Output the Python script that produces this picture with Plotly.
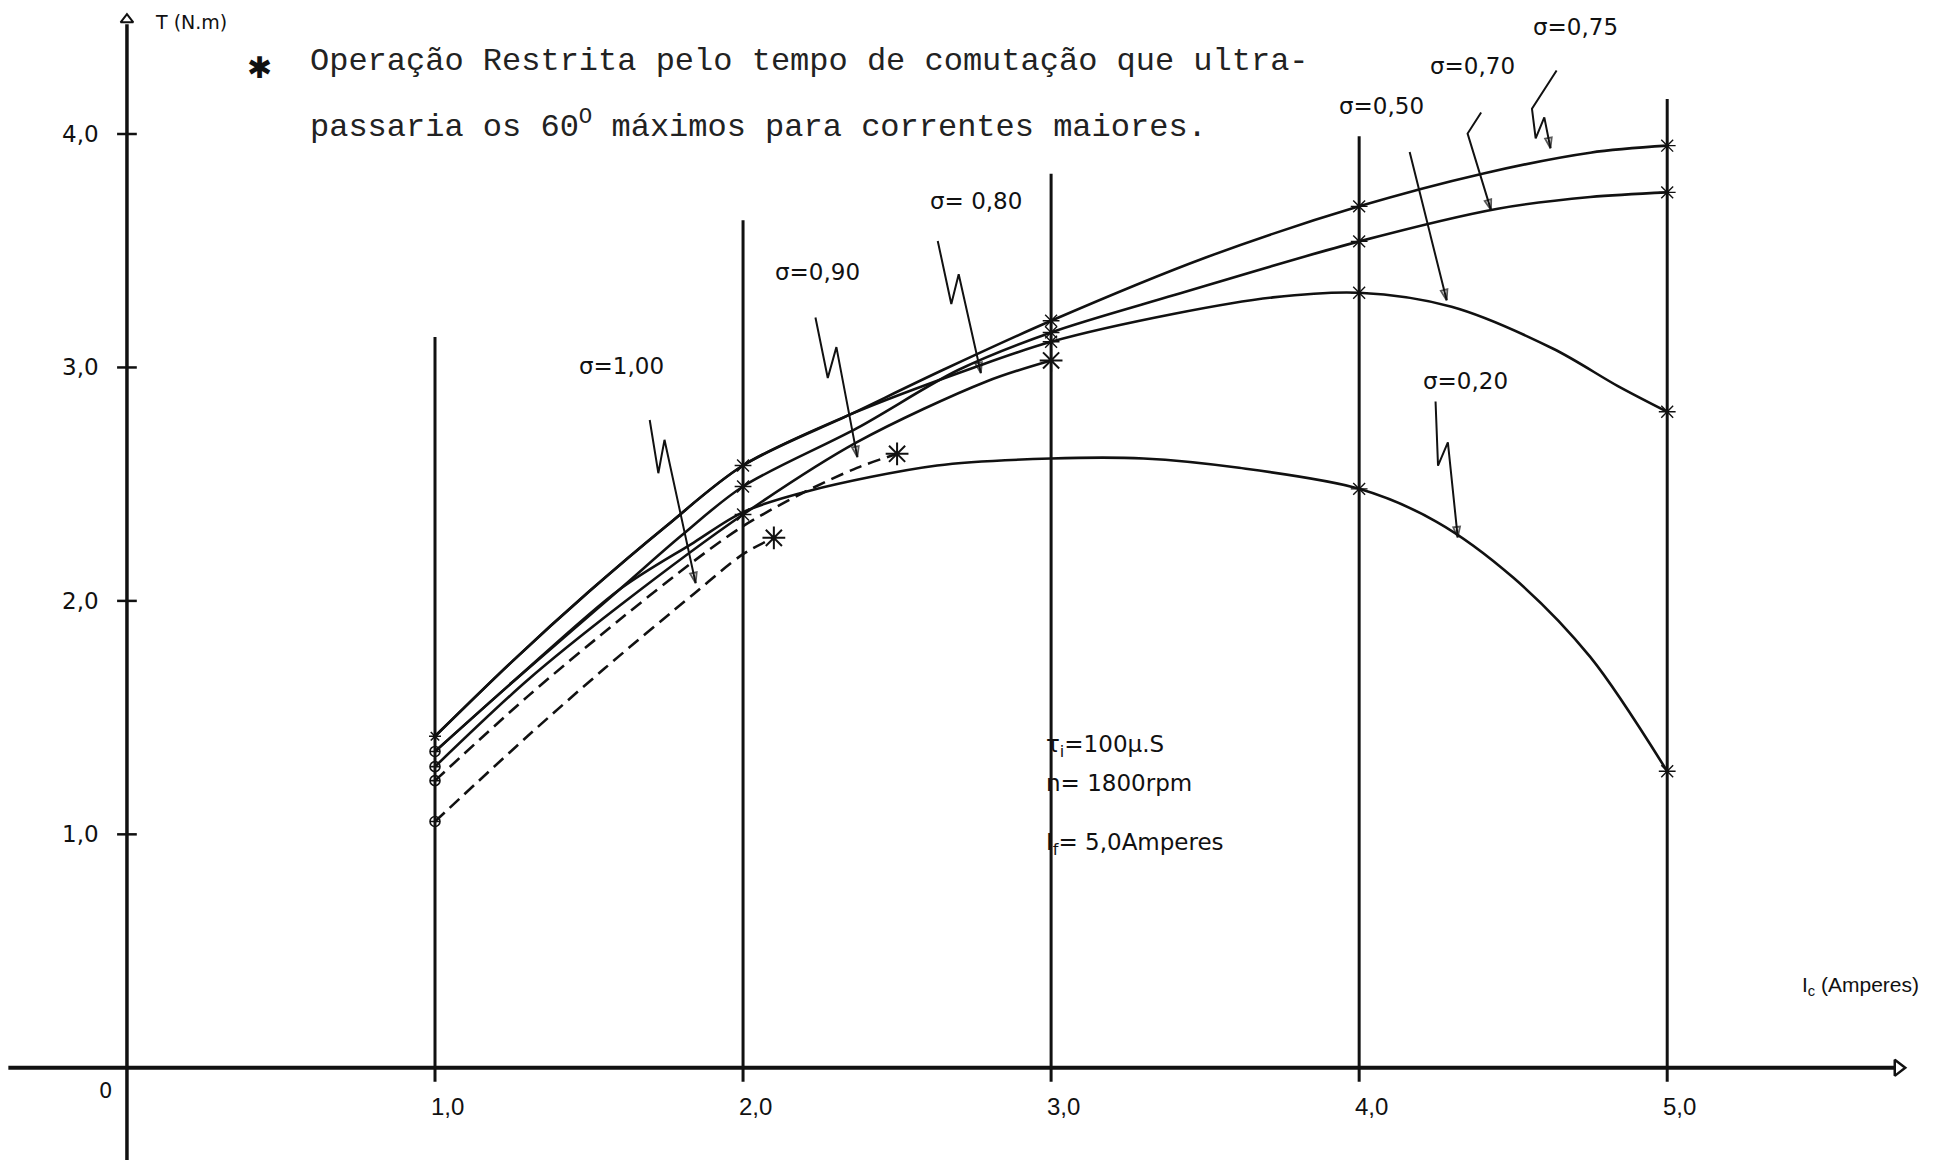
import plotly.graph_objects as go

# ---------------------------------------------------------------
# Torque T (N.m) against control current Ic (A), one curve per sigma
# ---------------------------------------------------------------
ic_sigma_100 = [1.0, 1.3, 1.55, 1.84, 2.0, 2.1]
t_sigma_100 = [1.055, 1.42, 1.71, 2.03, 2.20, 2.27]

ic_sigma_090 = [1.0, 1.3, 1.6, 1.84, 2.0, 2.19, 2.37, 2.5]
t_sigma_090 = [1.23, 1.59, 1.92, 2.17, 2.32, 2.46, 2.57, 2.63]

ic_sigma_080 = [1.0, 1.3, 1.6, 2.0, 2.37, 2.79, 3.0]
t_sigma_080 = [1.29, 1.66, 1.98, 2.37, 2.68, 2.94, 3.03]

ic_sigma_075 = [1.0, 1.25, 1.5, 1.75, 2.0, 2.35, 2.65, 3.0, 3.5, 4.0, 4.4, 4.75, 5.0]
t_sigma_075 = [1.42, 1.74, 2.04, 2.32, 2.58, 2.80, 2.99, 3.20, 3.47, 3.69, 3.83, 3.92, 3.95]

ic_sigma_070 = [1.0, 1.25, 1.6, 1.8, 2.0, 2.37, 2.7, 3.0, 3.4, 4.0, 4.45, 4.75, 5.0]
t_sigma_070 = [1.355, 1.65, 2.05, 2.28, 2.49, 2.74, 2.99, 3.15, 3.31, 3.54, 3.68, 3.73, 3.75]

ic_sigma_050 = [1.0, 1.25, 1.5, 1.75, 2.0, 2.35, 2.75, 3.0, 3.4, 3.72, 4.0, 4.3, 4.63, 4.84, 5.0]
t_sigma_050 = [1.42, 1.74, 2.04, 2.32, 2.58, 2.80, 3.00, 3.11, 3.23, 3.30, 3.32, 3.26, 3.08, 2.92, 2.81]

ic_sigma_020 = [1.0, 1.25, 1.6, 1.84, 2.0, 2.21, 2.63, 3.0, 3.3, 3.61, 4.0, 4.25, 4.5, 4.75, 5.0]
t_sigma_020 = [1.355, 1.65, 2.05, 2.25, 2.38, 2.47, 2.58, 2.61, 2.61, 2.57, 2.48, 2.34, 2.10, 1.76, 1.27]

# axis ticks and the vertical guide lines at each current step
grid_currents = [1.0, 2.0, 3.0, 4.0, 5.0]
grid_tops = [3.13, 3.63, 3.83, 3.99, 4.15]
x_tick_text = ["1,0", "2,0", "3,0", "4,0", "5,0"]
y_ticks = [1.0, 2.0, 3.0, 4.0]
y_tick_text = ["1,0", "2,0", "3,0", "4,0"]

# ---------------------------------------------------------------
# styling per curve
# ---------------------------------------------------------------
INK = "#111111"
curves = [
    dict(ic=ic_sigma_100, t=t_sigma_100, dash="13px,7px", start="circle-cross-open", stars=[], restricted=True),
    dict(ic=ic_sigma_090, t=t_sigma_090, dash="13px,7px", start="circle-cross-open", stars=[], restricted=True),
    dict(ic=ic_sigma_080, t=t_sigma_080, dash="solid", start="circle-cross-open", stars=[2.0], restricted=True),
    dict(ic=ic_sigma_075, t=t_sigma_075, dash="solid", start="asterisk-open", stars=[2.0, 3.0, 4.0, 5.0], restricted=False),
    dict(ic=ic_sigma_070, t=t_sigma_070, dash="solid", start="circle-cross-open", stars=[2.0, 3.0, 4.0, 5.0], restricted=False),
    dict(ic=ic_sigma_050, t=t_sigma_050, dash="solid", start=None, stars=[3.0, 4.0, 5.0], restricted=False),
    dict(ic=ic_sigma_020, t=t_sigma_020, dash="solid", start=None, stars=[4.0, 5.0], restricted=False),
]

# sigma captions with their zig-zag leaders (last point = arrow tip)
captions = [
    dict(text="σ=1,00", pos=(1.605, 3.008),
         path=[(1.697, 2.775), (1.725, 2.547), (1.745, 2.690), (1.846, 2.076)]),
    dict(text="σ=0,90", pos=(2.243, 3.410),
         path=[(2.235, 3.214), (2.275, 2.955), (2.303, 3.087), (2.371, 2.616)]),
    dict(text="σ= 0,80", pos=(2.756, 3.711),
         path=[(2.632, 3.542), (2.676, 3.272), (2.700, 3.399), (2.772, 2.976)]),
    dict(text="σ=0,50", pos=(4.071, 4.119),
         path=[(4.164, 3.923), (4.284, 3.288)]),
    dict(text="σ=0,70", pos=(4.368, 4.293),
         path=[(4.396, 4.092), (4.352, 4.002), (4.428, 3.674)]),
    dict(text="σ=0,75", pos=(4.701, 4.457),
         path=[(4.641, 4.272), (4.561, 4.108), (4.573, 3.981), (4.601, 4.071), (4.621, 3.939)]),
    dict(text="σ=0,20", pos=(4.344, 2.944),
         path=[(4.248, 2.854), (4.256, 2.579), (4.288, 2.679), (4.320, 2.272)]),
]

X_RANGE = [-0.4121, 5.8758]
Y_RANGE = [-0.395, 4.574]

fig = go.Figure()

# vertical guide lines at each current step
gx, gy = [], []
for c, top in zip(grid_currents, grid_tops):
    gx += [c, c, None]
    gy += [-0.06, top, None]
fig.add_trace(go.Scatter(x=gx, y=gy, mode="lines", line=dict(color=INK, width=3), hoverinfo="skip"))

# main axes
fig.add_trace(go.Scatter(x=[-0.385, 5.74], y=[0, 0], mode="lines", line=dict(color=INK, width=4), hoverinfo="skip"))
fig.add_trace(go.Scatter(x=[0, 0], y=[Y_RANGE[0], 4.47], mode="lines", line=dict(color=INK, width=3.5), hoverinfo="skip"))
fig.add_trace(go.Scatter(x=[5.75], y=[0], mode="markers",
                         marker=dict(symbol="triangle-right-open", size=14, color=INK, line=dict(width=2.5, color=INK)),
                         hoverinfo="skip"))
fig.add_trace(go.Scatter(x=[0], y=[4.49], mode="markers",
                         marker=dict(symbol="triangle-up-open", size=11, color=INK, line=dict(width=2, color=INK)),
                         hoverinfo="skip"))

# y tick bars
tx, ty = [], []
for v in y_ticks:
    tx += [-0.032, 0.032, None]
    ty += [v, v, None]
fig.add_trace(go.Scatter(x=tx, y=ty, mode="lines", line=dict(color=INK, width=2.5), hoverinfo="skip"))

# torque curves
for cv in curves:
    fig.add_trace(go.Scatter(x=cv["ic"], y=cv["t"], mode="lines",
                             line=dict(color=INK, width=2.6, dash=cv["dash"], shape="spline", smoothing=0.9),
                             hoverinfo="skip"))

# point markers: start of each curve, measured points, and restricted end points
for cv in curves:
    if cv["start"]:
        fig.add_trace(go.Scatter(x=cv["ic"][:1], y=cv["t"][:1], mode="markers",
                                 marker=dict(symbol=cv["start"], size=10, color=INK, line=dict(width=1.6, color=INK)),
                                 hoverinfo="skip"))
    sx = [c for c in cv["ic"] if c in cv["stars"]]
    sy = [t for c, t in zip(cv["ic"], cv["t"]) if c in cv["stars"]]
    if sx:
        fig.add_trace(go.Scatter(x=sx, y=sy, mode="markers",
                                 marker=dict(symbol="asterisk-open", size=14, color=INK, line=dict(width=1.4, color=INK)),
                                 hoverinfo="skip"))
    if cv["restricted"]:
        fig.add_trace(go.Scatter(x=cv["ic"][-1:], y=cv["t"][-1:], mode="markers",
                                 marker=dict(symbol="asterisk-open", size=19, color=INK, line=dict(width=2, color=INK)),
                                 hoverinfo="skip"))

annotations = []
SANS = "DejaVu Sans"
NARROW = "Liberation Sans"
MONO = "Liberation Mono"

# caption leaders, each ending in an arrowhead that follows the last segment
for cap in captions:
    path = cap["path"]
    n = len(path)
    fig.add_trace(go.Scatter(
        x=[p[0] for p in path], y=[p[1] for p in path], mode="lines+markers",
        line=dict(color=INK, width=2),
        marker=dict(symbol="arrow-open", angleref="previous", size=[0] * (n - 1) + [11],
                    color=INK, line=dict(width=1.8, color=INK)),
        hoverinfo="skip"))
    annotations.append(dict(x=cap["pos"][0], y=cap["pos"][1], xref="x", yref="y", text=cap["text"],
                            showarrow=False, xanchor="center", yanchor="middle",
                            font=dict(family=SANS, size=23, color=INK)))

# tick labels
for c, lab in zip(grid_currents, x_tick_text):
    annotations.append(dict(x=c + 0.04, y=-0.165, xref="x", yref="y", text=lab, showarrow=False,
                            xanchor="center", yanchor="middle", font=dict(family=NARROW, size=24, color=INK)))
for v, lab in zip(y_ticks, y_tick_text):
    annotations.append(dict(x=-0.085, y=v, xref="x", yref="y", text=lab, showarrow=False,
                            xanchor="right", yanchor="middle", font=dict(family=SANS, size=23, color=INK)))
annotations.append(dict(x=-0.071, y=-0.098, xref="x", yref="y", text="0", showarrow=False,
                        xanchor="center", yanchor="middle", font=dict(family=SANS, size=21, color=INK)))

# axis titles
annotations.append(dict(x=0.085, y=4.479, xref="x", yref="y", text="T (N.m)", showarrow=False,
                        xanchor="left", yanchor="middle", font=dict(family=SANS, size=19, color=INK)))
annotations.append(dict(x=5.43, y=0.351, xref="x", yref="y", text="I<sub>c</sub> (Amperes)", showarrow=False,
                        xanchor="left", yanchor="middle", font=dict(family=NARROW, size=21, color=INK)))

# note about restricted operation
annotations.append(dict(x=0.43, y=4.283, xref="x", yref="y", text="✱", showarrow=False,
                        xanchor="center", yanchor="middle", font=dict(family=SANS, size=30, color=INK)))
annotations.append(dict(x=0.588, y=4.309, xref="x", yref="y",
                        text="Operação Restrita pelo tempo de comutação que ultra-", showarrow=False,
                        xanchor="left", yanchor="middle", font=dict(family=MONO, size=32, color="#222222")))
annotations.append(dict(x=0.588, y=4.04, xref="x", yref="y",
                        text="passaria os 60<sup>O</sup> máximos para correntes maiores.", showarrow=False,
                        xanchor="left", yanchor="middle", font=dict(family=MONO, size=32, color="#222222")))

# operating conditions
cond_font = dict(family=SANS, size=23, color=INK)
annotations.append(dict(x=2.977, y=1.378, xref="x", yref="y", text="τ<sub>i</sub>=100μ.S", showarrow=False,
                        xanchor="left", yanchor="middle", font=cond_font))
annotations.append(dict(x=2.977, y=1.219, xref="x", yref="y", text="n= 1800rpm", showarrow=False,
                        xanchor="left", yanchor="middle", font=cond_font))
annotations.append(dict(x=2.977, y=0.960, xref="x", yref="y", text="I<sub>f</sub>= 5,0Amperes", showarrow=False,
                        xanchor="left", yanchor="middle", font=cond_font))

fig.update_layout(
    width=1937, height=1160,
    margin=dict(l=0, r=0, t=0, b=0),
    paper_bgcolor="white", plot_bgcolor="white",
    showlegend=False,
    xaxis=dict(range=X_RANGE, visible=False, fixedrange=True),
    yaxis=dict(range=Y_RANGE, visible=False, fixedrange=True),
    annotations=annotations,
)

fig.write_html("out.html")
